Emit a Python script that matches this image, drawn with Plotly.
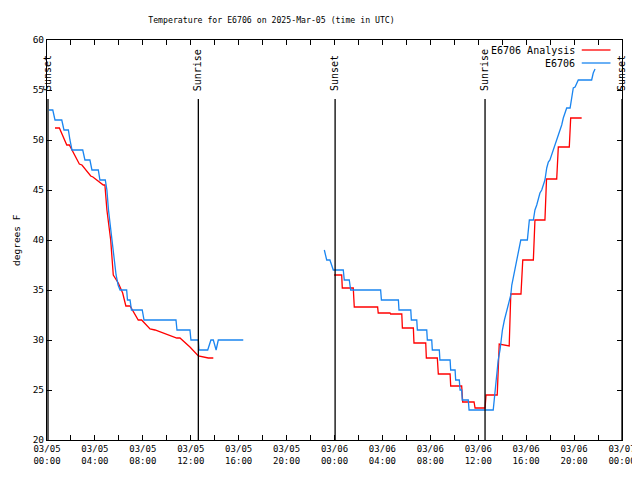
import plotly.graph_objects as go

# ---------------- data ----------------
obs_day1_time = ["2025-03-05 " + t for t in [
    "00:10", "00:29", "00:40", "01:14", "01:25", "01:47", "01:55", "02:05", "02:59", "03:10",
    "03:35", "03:45", "04:17", "04:25", "04:52", "05:00", "05:08", "05:16", "05:26", "05:36",
    "05:46", "05:56", "06:06", "06:39", "06:43", "06:56", "07:03", "07:57", "08:06", "10:46",
    "10:51", "11:56", "12:01", "12:38", "12:41", "13:25", "13:41", "13:53", "14:07", "14:18",
    "16:23"]]
obs_day1_temp = [
    53, 53, 52, 52, 51, 51, 50, 49, 49, 48,
    48, 47, 47, 46, 46, 45, 43, 41.5, 40, 38,
    36.5, 35.5, 35, 35, 34, 34, 33, 33, 32, 32,
    31, 31, 30, 30, 29, 29, 30, 30, 29, 30,
    30]

obs_day2_time = ["2025-03-05 23:09", "2025-03-05 23:21", "2025-03-05 23:37", "2025-03-05 23:54"] + [
    "2025-03-06 " + t for t in [
        "00:44", "00:49", "01:14", "01:21", "03:51", "03:55", "05:20", "05:23", "06:22", "06:25",
        "06:52", "06:55", "07:42", "07:45", "08:07", "08:10", "08:45", "08:48", "09:39", "09:42",
        "10:04", "10:07", "10:25", "10:29", "10:37", "10:40", "11:10", "11:14", "13:15", "13:20",
        "13:24", "13:32", "13:37", "13:40", "13:49", "13:54", "14:01", "14:11", "14:23", "14:31",
        "14:35", "14:43", "14:48", "14:53", "14:59", "15:04", "15:09", "15:16", "15:21", "15:26",
        "15:33", "16:06", "16:11", "16:16", "16:36", "16:44", "16:53", "17:01", "17:09", "17:18",
        "17:26", "17:34", "17:43", "17:51", "17:59", "18:08", "18:16", "18:25", "18:33", "18:41",
        "18:49", "18:58", "19:06", "19:14", "19:23", "19:40", "19:48", "19:53", "19:56", "20:05",
        "20:13", "20:21", "21:28", "21:36", "21:45"]]
obs_day2_temp = [39, 38, 38, 37] + [
    37, 36, 36, 35, 35, 34, 34, 33, 33, 32,
    32, 31, 31, 30, 30, 29, 29, 28, 28, 27,
    27, 26, 26, 25, 25, 24, 24, 23, 23, 24,
    25, 26, 27, 28, 29, 30, 31, 32, 33, 33.5,
    34, 34.5, 35.5, 36, 36.5, 37, 37.5, 38, 38.5, 39,
    40, 40, 41, 42, 42, 43, 43.5, 44, 44.7, 45,
    45.5, 46, 47.2, 47.8, 48, 48.5, 49, 49.5, 50, 50.5,
    51, 51.5, 52.2, 52.7, 53.2, 53.2, 54.2, 54.7, 55.2, 55.3,
    55.7, 56, 56, 56.7, 57.1]

ana_day1_time = ["2025-03-05 " + t for t in [
    "00:40", "01:02", "01:39", "01:52", "02:42", "02:55", "03:39", "03:50", "04:42", "04:50",
    "05:00", "05:08", "05:19", "05:32", "05:57", "06:19", "06:35", "06:56", "07:37", "07:54",
    "08:36", "09:01", "10:50", "11:06", "11:56", "12:38", "13:03", "13:28", "13:53"]]
ana_day1_temp = [
    51.2, 51.2, 49.5, 49.5, 47.6, 47.5, 46.4, 46.3, 45.5, 45.5,
    43, 41.5, 40, 36.5, 35.7, 34.7, 33.4, 33.4, 32, 32,
    31.1, 31, 30.2, 30.2, 29.3, 28.4, 28.3, 28.2, 28.2]

ana_day2_time = ["2025-03-05 23:58"] + ["2025-03-06 " + t for t in [
    "00:36", "00:39", "01:34", "01:39", "03:36", "03:39", "04:38", "04:41", "05:37", "05:40",
    "06:35", "06:38", "07:37", "07:40", "08:35", "08:40", "09:39", "09:42", "10:37", "10:42",
    "11:39", "11:44", "12:34", "12:39", "13:35", "13:40", "13:45", "14:35", "14:39", "14:43",
    "15:34", "15:38", "15:43", "16:36", "16:39", "16:44", "17:34", "17:38", "17:42", "18:33",
    "18:36", "18:41", "19:36", "19:40", "19:43", "20:38"]]
ana_day2_temp = [36.5] + [
    36.5, 35.2, 35.2, 33.3, 33.3, 32.7, 32.7, 32.6, 32.6, 31.2,
    31.2, 29.7, 29.7, 28.2, 28.2, 26.6, 26.6, 25.4, 25.4, 23.8,
    23.8, 23.2, 23.2, 24.5, 24.5, 27, 29.6, 29.4, 32, 34.6,
    34.6, 36.3, 38, 38, 40, 42, 42, 44, 46.1, 46.1,
    47.8, 49.3, 49.3, 50.8, 52.2, 52.2]

sun_event_time = ["2025-03-05 00:05", "2025-03-05 12:38", "2025-03-06 00:03",
                  "2025-03-06 12:34", "2025-03-07 00:00"]
sun_event_label = ["Sunset", "Sunrise", "Sunset", "Sunrise", "Sunset"]

series_names = ["E6706 Analysis", "E6706"]
series_colors = ["#ff0000", "#1a85f0"]

# ---------------- figure ----------------
# The page body keeps its default 8px margin, so the figure is sized to fit the window.
FONT = "DejaVu Sans Mono"
W, H = 632, 472
fig = go.Figure()

fig.add_trace(go.Scatter(
    x=ana_day1_time + [None] + ana_day2_time,
    y=ana_day1_temp + [None] + ana_day2_temp,
    mode="lines", line=dict(color=series_colors[0], width=1.3),
    connectgaps=False, showlegend=False, name=series_names[0]))
fig.add_trace(go.Scatter(
    x=obs_day1_time + [None] + obs_day2_time,
    y=obs_day1_temp + [None] + obs_day2_temp,
    mode="lines", line=dict(color=series_colors[1], width=1.3),
    connectgaps=False, showlegend=False, name=series_names[1]))

shapes = []
annotations = []
for t, lab in zip(sun_event_time, sun_event_label):
    shapes.append(dict(type="line", xref="x", yref="paper", x0=t, x1=t, y0=0, y1=0.8525,
                       line=dict(color="black", width=1.3)))
    annotations.append(dict(x=t, xref="x", y=0.8675, yref="paper", text=lab, textangle=-90,
                            showarrow=False, xanchor="center", yanchor="bottom",
                            font=dict(family=FONT, size=10, color="black")))

# manual legend (text left of line sample, as in the reference)
legend_rows_y = [0.975, 0.9425]
for name, col, yy in zip(series_names, series_colors, legend_rows_y):
    annotations.append(dict(x=0.922, xref="paper", y=yy, yref="paper", text=name,
                            showarrow=False, xanchor="right", yanchor="middle",
                            font=dict(family=FONT, size=10, color="black")))
    shapes.append(dict(type="line", xref="paper", yref="paper", x0=0.93, x1=0.98,
                       y0=yy, y1=yy, line=dict(color=col, width=1.3)))

annotations.append(dict(x=(16 - 47) / 575, xref="paper", y=0.5, yref="paper", text="degrees F",
                        textangle=-90, showarrow=False, xanchor="center", yanchor="middle",
                        font=dict(family=FONT, size=9.5, color="black")))

fig.update_layout(
    width=W, height=H,
    margin=dict(l=39, r=18, t=32, b=40, autoexpand=False),
    paper_bgcolor="white", plot_bgcolor="white",
    font=dict(family=FONT, size=10, color="black"),
    title=dict(text="Temperature for E6706 on 2025-Mar-05 (time in UTC)",
               x=(271.5 - 8) / W, xref="container", xanchor="center",
               y=1 - 12 / H, yref="container", yanchor="middle",
               font=dict(family=FONT, size=8.2, color="black"), automargin=False),
    shapes=shapes, annotations=annotations,
    showlegend=False,
)
fig.update_xaxes(
    type="date", range=["2025-03-05 00:00", "2025-03-07 00:00"], automargin=False,
    dtick=4 * 3600 * 1000, tick0="2025-03-05 00:00", tickformat="%m/%d<br>%H:%M",
    ticks="inside", ticklen=5, tickcolor="black", showline=True, linecolor="black",
    linewidth=1, mirror="ticks", showgrid=False, zeroline=False,
    minor=dict(dtick=2 * 3600 * 1000, ticks="inside", ticklen=5, tickcolor="black", showgrid=False),
    tickfont=dict(family=FONT, size=9, color="black"),
)
fig.update_yaxes(
    range=[20, 60], dtick=5, ticks="inside", ticklen=5, tickcolor="black", automargin=False,
    showline=True, linecolor="black", linewidth=1, mirror="ticks",
    showgrid=False, zeroline=False,
    tickfont=dict(family=FONT, size=9.5, color="black"),
)

fig.write_html("out.html")
